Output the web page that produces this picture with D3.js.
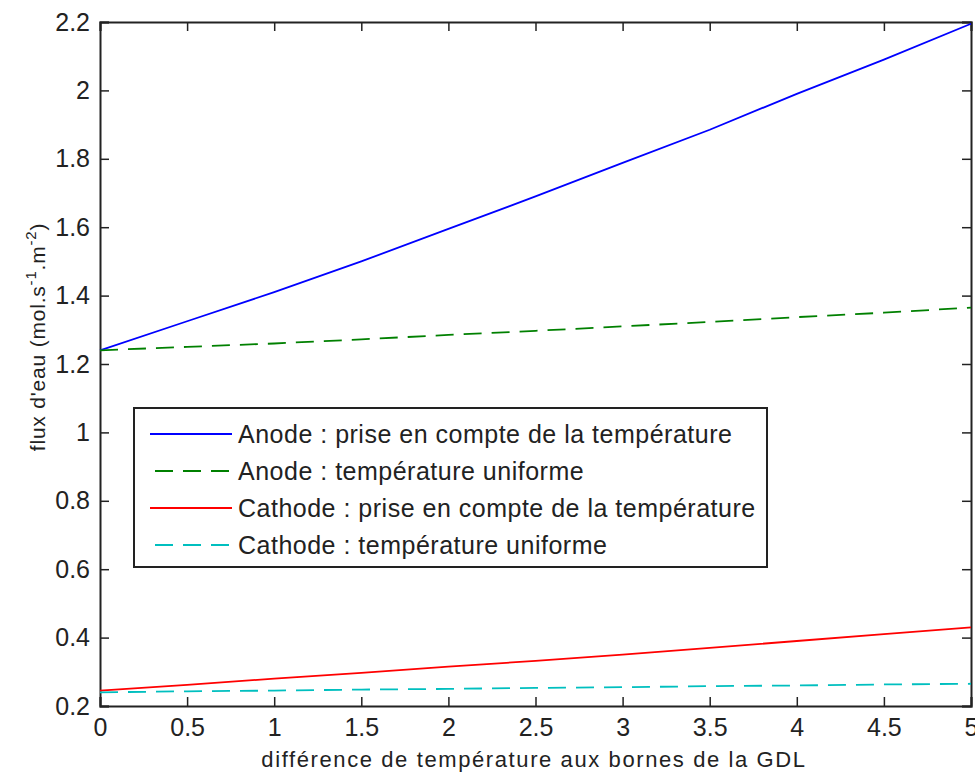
<!DOCTYPE html>
<html>
<head>
<meta charset="utf-8">
<script src="https://cdn.jsdelivr.net/npm/d3@7"></script>
<style>
  body { margin: 0; background: #fff; }
  text { font-family: "Liberation Sans", Arial, sans-serif; fill: #222; }
</style>
</head>
<body>
<div id="chart-area"></div>
<script>
// data
var dT = [0, 0.5, 1, 1.5, 2, 2.5, 3, 3.5, 4, 4.5, 5];
var anodeTemp = [1.24, 1.325, 1.41, 1.50, 1.595, 1.69, 1.788, 1.885, 1.99, 2.09, 2.195];
var anodeUni = [1.24, 1.25, 1.26, 1.272, 1.285, 1.297, 1.31, 1.323, 1.337, 1.35, 1.365];
var cathodeTemp = [0.245, 0.262, 0.28, 0.297, 0.315, 0.332, 0.35, 0.37, 0.39, 0.41, 0.43];
var cathodeUni = [0.24, 0.243, 0.245, 0.248, 0.25, 0.253, 0.255, 0.258, 0.26, 0.263, 0.265];
var xTicks = [0, 0.5, 1, 1.5, 2, 2.5, 3, 3.5, 4, 4.5, 5];
var yTicks = [0.2, 0.4, 0.6, 0.8, 1, 1.2, 1.4, 1.6, 1.8, 2, 2.2];
var labels = ["Anode : prise en compte de la température",
              "Anode : température uniforme",
              "Cathode : prise en compte de la température",
              "Cathode : température uniforme"];

var series = [
  {values: anodeTemp, color: "#0000ff", dash: null},
  {values: anodeUni, color: "#008000", dash: "18,10"},
  {values: cathodeTemp, color: "#ff0000", dash: null},
  {values: cathodeUni, color: "#00bfbf", dash: "18,10"}
];

var margin = {top: 22, right: 4, bottom: 72, left: 100};
var width = 971 - 100;
var height = 706 - 22;

var svg = d3.select("#chart-area")
    .append("svg")
    .attr("width", 975)
    .attr("height", 778);

var g = svg.append("g")
    .attr("transform", "translate(" + margin.left + ", " + margin.top + ")");

var x = d3.scaleLinear().domain([0, 5]).range([0, width]);
var y = d3.scaleLinear().domain([0.2, 2.2]).range([height, 0]);

// axes, ticks pointing inward, mirrored on top and right
var fmt = function(d) { return d3.format("~g")(d); };

var xAxisGroup = g.append("g")
    .attr("transform", "translate(0, " + height + ")")
    .call(d3.axisBottom(x).tickValues(xTicks).tickSize(-9).tickPadding(12).tickFormat(fmt));
var yAxisGroup = g.append("g")
    .call(d3.axisLeft(y).tickValues(yTicks).tickSize(-9).tickPadding(10).tickFormat(fmt));
var topAxisGroup = g.append("g")
    .call(d3.axisTop(x).tickValues(xTicks).tickSize(-9).tickFormat(""));
var rightAxisGroup = g.append("g")
    .attr("transform", "translate(" + width + ", 0)")
    .call(d3.axisRight(y).tickValues(yTicks).tickSize(-9).tickFormat(""));

[xAxisGroup, yAxisGroup, topAxisGroup, rightAxisGroup].forEach(function(a) {
  a.attr("font-size", null).attr("font-family", null);
  a.select(".domain").attr("stroke", "#222").attr("stroke-width", 2);
  a.selectAll(".tick line").attr("stroke", "#222").attr("stroke-width", 1.5);
  a.selectAll(".tick text")
    .style("font-size", "25px")
    .style("font-family", "'Liberation Sans', Arial, sans-serif")
    .attr("fill", "#222");
});
xAxisGroup.selectAll(".tick text").attr("dy", "0.71em");

// lines
var line = d3.line()
    .x(function(d, i) { return x(dT[i]); })
    .y(function(d) { return y(d); });

g.selectAll(".series")
    .data(series)
    .enter()
    .append("path")
    .attr("class", "series")
    .attr("d", function(d) { return line(d.values); })
    .attr("fill", "none")
    .attr("stroke", function(d) { return d.color; })
    .attr("stroke-width", 1.8)
    .attr("stroke-dasharray", function(d) { return d.dash; });

// axis labels
g.append("text")
    .attr("x", 534 - margin.left)
    .attr("y", 767 - margin.top)
    .style("font-size", "22px")
    .style("letter-spacing", "1.6px")
    .attr("text-anchor", "middle")
    .text("différence de température aux bornes de la GDL");

var yl = g.append("text")
    .attr("transform", "translate(" + (45 - margin.left) + ", " + (337 - margin.top) + ") rotate(-90)")
    .style("font-size", "21px")
    .style("letter-spacing", "0.8px")
    .attr("text-anchor", "middle");
yl.append("tspan").text("flux d'eau (mol.s");
yl.append("tspan").attr("dy", -9).style("font-size", "15px").text("-1");
yl.append("tspan").attr("dy", 9).text(".m");
yl.append("tspan").attr("dy", -9).style("font-size", "15px").text("-2");
yl.append("tspan").attr("dy", 9).text(")");

// legend
var legend = svg.append("g").attr("transform", "translate(134, 408)");
legend.append("rect")
    .attr("width", 633)
    .attr("height", 159)
    .attr("fill", "#fff")
    .attr("stroke", "#222")
    .attr("stroke-width", 2);

var item = legend.selectAll(".item")
    .data(series)
    .enter()
    .append("g")
    .attr("class", "item")
    .attr("transform", function(d, i) { return "translate(0, " + (26 + i * 37) + ")"; });

item.append("line")
    .attr("x1", function(d) { return d.dash ? 21 : 16; })
    .attr("x2", 98)
    .attr("stroke", function(d) { return d.color; })
    .attr("stroke-width", 1.8)
    .attr("stroke-dasharray", function(d) { return d.dash; });

item.append("text")
    .attr("x", 104)
    .attr("dy", "0.35em")
    .style("font-size", "25px")
    .style("letter-spacing", "0.5px")
    .text(function(d, i) { return labels[i]; });
</script>
</body>
</html>
